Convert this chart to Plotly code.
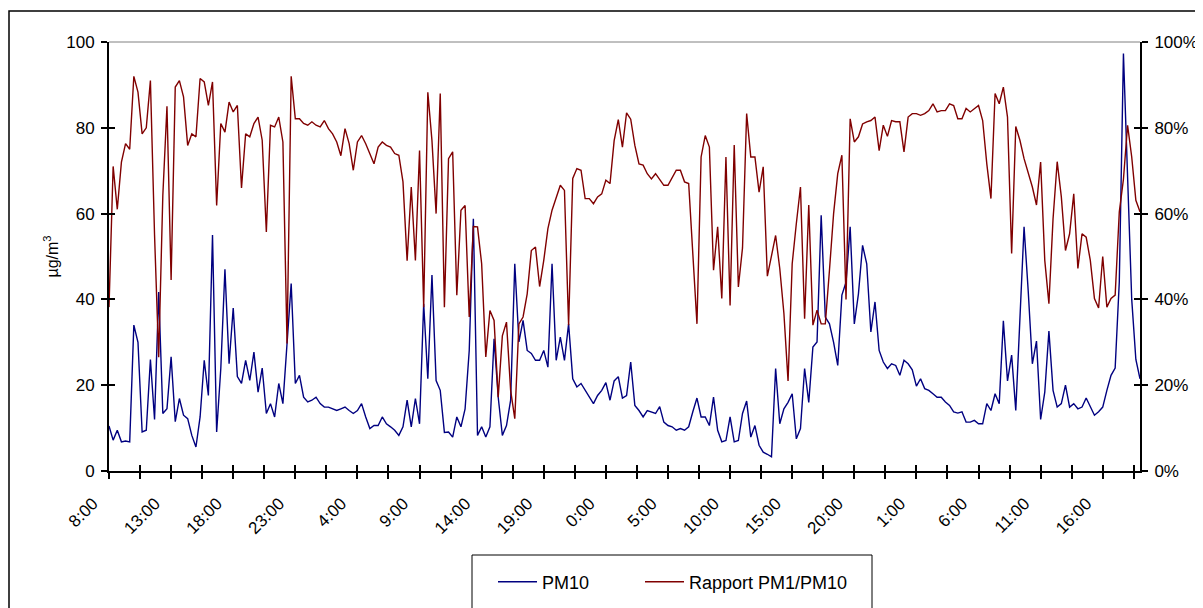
import pandas as pd
import plotly.graph_objects as go

# PM10 (µg/m3) and PM1/PM10 ratio (%), one reading every 20 minutes starting 8:00
pm10 = [
    10.5, 7.2, 9.5, 6.8, 7.0, 6.8, 34, 30, 9.1, 9.5,
    26, 12, 41.7, 13.4, 14.5, 26.6, 11.5, 16.9, 13, 12.2,
    8.3, 5.6, 12.6, 25.8, 17.6, 55, 9.1, 23.9, 47, 25,
    38, 22, 20.4, 25.8, 21.1, 27.7, 18.4, 24, 13.4, 15.7,
    12.6, 20.4, 15.7, 29.7, 43.7, 20.4, 22.3, 17.2, 16.1, 16.5,
    17.2, 15.7, 14.9, 14.9, 14.5, 14.1, 14.5, 14.9, 14.1, 13.4,
    14.1, 15.7, 12.6, 9.9, 10.6, 10.6, 12.6, 11, 10.3, 9.5,
    8.3, 10.3, 16.5, 10.3, 16.9, 11, 39, 21.5, 45.7, 21.1,
    18.8, 9, 9.1, 7.9, 12.6, 10.3, 14.5, 28.1, 58.8, 8.3,
    10.3, 7.9, 10.3, 30.8, 17.2, 8.3, 10.6, 16.5, 48.3, 30.1,
    35.1, 28.1, 27.4, 25.8, 25.8, 28.1, 24.2, 48.3, 25.8, 31.2,
    25.8, 34.3, 21.5, 19.6, 20.4, 18.8, 17.2, 15.7, 17.6, 18.8,
    20.6, 16.5, 21, 22, 17, 17.6, 25.4, 15.3, 14.1, 12.6,
    14.1, 13.8, 13.4, 15, 11.4, 10.6, 10.3, 9.5, 9.9, 9.5,
    10.3, 13.8, 17, 12.6, 12.6, 10.6, 17.2, 9.5, 6.8, 7.1,
    12.6, 6.8, 7.1, 13.4, 16.3, 7.9, 10.6, 6, 4.4, 3.9,
    3.3, 23.9, 11, 14.5, 16, 18, 7.5, 9.9, 23.9, 16,
    28.9, 30.1, 59.6, 35.9, 34.3, 30, 24.6, 41, 44, 56.9,
    34.3, 41.3, 52.6, 48.3, 32.4, 39.4, 28.1, 25.4, 23.9, 25,
    24.6, 22.3, 25.8, 25, 23.6, 19.8, 21.5, 19.2, 18.8, 18,
    17.2, 17.2, 16.1, 15.3, 13.8, 13.5, 13.8, 11.4, 11.4, 11.8,
    11, 11, 15.7, 14.1, 18, 15.7, 35, 21, 27, 14.1,
    36.7, 56.9, 42, 25, 30.3, 12, 18.4, 32.6, 18.8, 14.9,
    15.7, 20, 14.9, 15.7, 14.5, 14.9, 17, 14.9, 13, 13.8,
    14.9, 18.8, 22.3, 24, 44.1, 97.3, 70.9, 40, 26, 21.5,
]
ratio = [
    38.2, 71, 61, 72, 76.3, 75, 92, 88.3, 78.6, 80,
    91, 55, 26.5, 64.3, 85, 44.5, 89.5, 91, 87.2, 75.9,
    78.6, 77.9, 91.5, 90.7, 85.2, 90.7, 61.9, 81, 79, 86,
    83.7, 85.2, 66, 78.6, 77.9, 81, 82.5, 77.1, 55.7, 80.6,
    80.2, 82.5, 76.7, 29.7, 92, 82.1, 82.1, 81, 80.6, 81.4,
    80.6, 80.2, 81.7, 79.8, 78.6, 76.7, 73.5, 79.8, 76.3, 70.1,
    76.7, 78.2, 76.3, 74, 71.6, 75.5, 76.7, 75.9, 75.5, 74,
    73.6, 67.4, 49, 66.2, 49.1, 74.7, 38.2, 88.3, 77, 60,
    88, 38.2, 72.8, 74.4, 41, 60.8, 61.9, 35.9, 57, 56.9,
    48.3, 26.6, 37.4, 35.1, 17.2, 31.5, 34.7, 18.8, 12.2, 34.3,
    35.9, 41.3, 51.4, 52.2, 43, 49.1, 56.5, 60.8, 63.9, 66.6,
    65.4, 34, 68.2, 70.5, 70.1, 63.5, 63.5, 62.3, 63.9, 64.6,
    67.8, 67, 77, 81.9, 75.5, 83.5, 82, 75.9, 71.6, 71.3,
    69.3, 68.1, 69.3, 67.8, 66.6, 66.6, 68.5, 70.1, 70.1, 67.4,
    67, 52, 34.3, 73.2, 78.2, 75.5, 46.8, 56.9, 40.2, 73.2,
    38.6, 76, 42.9, 52, 83.3, 73.2, 73.2, 65, 70.9, 45.4,
    49.9, 54.9, 47.2, 36.7, 21, 48.3, 57.7, 66.2, 35.5, 62,
    34, 37.5, 34.3, 34.3, 46.8, 60, 69.3, 73.6, 40, 82.1,
    76.7, 77.9, 80.9, 81.4, 81.7, 82.5, 74.7, 80.6, 78, 81.7,
    81.4, 81.4, 74.4, 82.5, 83.3, 83.3, 82.9, 83.3, 84, 85.6,
    83.7, 84, 84, 85.6, 85.2, 82.1, 82.1, 84.5, 83.7, 84.5,
    85.2, 81.7, 71.6, 63.5, 88, 85.6, 89.5, 82.5, 50.7, 80.3,
    77.1, 72.8, 69.3, 66.2, 62, 72, 49.1, 39, 58.8, 72.1,
    63.9, 51.4, 55.3, 64.6, 47.2, 55.3, 54.5, 49.1, 40.2, 38,
    50, 38.2, 40.2, 41, 60.4, 68, 80.6, 73.2, 63.1, 60.4,
]

start = pd.Timestamp("2008-01-01 08:00")
times = pd.date_range(start, periods=len(pm10), freq="20min")
end = times[-1]

FONT = "Liberation Sans, Arial, sans-serif"
PAGE_W, PAGE_H = 1203, 608
PAD = 8                            # default body margin of the html page
W, H = PAGE_W - PAD, PAGE_H - PAD
L, R, T, B = 109, 1140, 42, 471    # plot area, page pixels


def px(x):
    return (x - L) / (R - L)


def py(y):
    return (B - y) / (B - T)


fig = go.Figure()
fig.add_trace(go.Scatter(x=times, y=pm10, name="PM10", mode="lines", legendwidth=93,
                         line=dict(color="#000080", width=1.4)))
fig.add_trace(go.Scatter(x=times, y=ratio, name="Rapport PM1/PM10", mode="lines",
                         yaxis="y2", legendwidth=180,
                         line=dict(color="#800000", width=1.4)))
# empty traces that carry the inner half of the crossing tick marks
fig.add_trace(go.Scatter(x=[], y=[], xaxis="x2", yaxis="y3", showlegend=False, hoverinfo="skip"))
fig.add_trace(go.Scatter(x=[], y=[], xaxis="x2", yaxis="y4", showlegend=False, hoverinfo="skip"))

tick = dict(ticklen=6, tickwidth=1.5, tickcolor="black")
hour = 3600 * 1000
fig.update_layout(
    width=W, height=H,
    margin=dict(l=L - PAD, r=PAGE_W - R, t=T - PAD, b=PAGE_H - B, autoexpand=False),
    paper_bgcolor="white", plot_bgcolor="white",
    font=dict(family=FONT, size=17, color="black"),
    showlegend=True,
    legend=dict(orientation="h", x=px(493), y=py(582), xanchor="left", yanchor="middle",
                font=dict(size=18), itemwidth=39,
                bgcolor="rgba(0,0,0,0)", borderwidth=0),
    xaxis=dict(type="date", range=[start, end], tick0=start, dtick=5 * hour,
               tickformat="%-H:%M", tickangle=-45, ticks="outside", **tick,
               ticklabelstandoff=8, ticklabelshift=-16, automargin=False,
               minor=dict(dtick=2.5 * hour, tick0=start, ticks="outside",
                          ticklen=6, tickwidth=1.5, tickcolor="black", showgrid=False),
               showline=True, linecolor="black", linewidth=2, showgrid=False, zeroline=False,
               tickfont=dict(size=17)),
    xaxis2=dict(type="date", overlaying="x", anchor="y3", range=[start, end], tick0=start,
                dtick=5 * hour, ticks="inside", **tick, automargin=False,
                minor=dict(dtick=2.5 * hour, tick0=start, ticks="inside",
                           ticklen=6, tickwidth=1.5, tickcolor="black", showgrid=False),
                showticklabels=False, showline=False, showgrid=False, zeroline=False),
    yaxis=dict(range=[0, 100], dtick=20, ticks="outside", **tick, ticklabelstandoff=3,
               automargin=False, tickfont=dict(size=17),
               showline=True, linecolor="black", linewidth=2, showgrid=False, zeroline=False,
               title=dict(text="µg/m<sup>3</sup>", standoff=4, font=dict(size=16))),
    yaxis2=dict(range=[0, 100], dtick=20, overlaying="y", side="right", ticksuffix="%",
                ticks="outside", **tick, ticklabelstandoff=3, automargin=False,
                tickfont=dict(size=17),
                showline=True, linecolor="black", linewidth=2, showgrid=False, zeroline=False),
    yaxis3=dict(range=[0, 100], dtick=20, overlaying="y", anchor="x2", side="left",
                ticks="inside", **tick, showticklabels=False, showline=False,
                showgrid=False, zeroline=False, automargin=False),
    yaxis4=dict(range=[0, 100], dtick=20, overlaying="y", anchor="x2", side="right",
                ticks="inside", **tick, showticklabels=False, showline=False,
                showgrid=False, zeroline=False, automargin=False),
    shapes=[
        # grey top edge of the plot area
        dict(type="line", xref="paper", yref="paper", x0=0, x1=1, y0=1, y1=1,
             line=dict(color="#808080", width=1), layer="below"),
        # outer chart frame (runs off the right and bottom of the picture)
        dict(type="rect", xref="paper", yref="paper", x0=px(9), x1=px(PAGE_W + 20),
             y0=py(11), y1=py(PAGE_H + 20), line=dict(color="black", width=1.5)),
        # legend frame
        dict(type="rect", xref="paper", yref="paper", x0=px(472), x1=px(872),
             y0=py(555), y1=py(PAGE_H + 20), line=dict(color="black", width=1)),
    ],
)

fig.write_html("out.html")
